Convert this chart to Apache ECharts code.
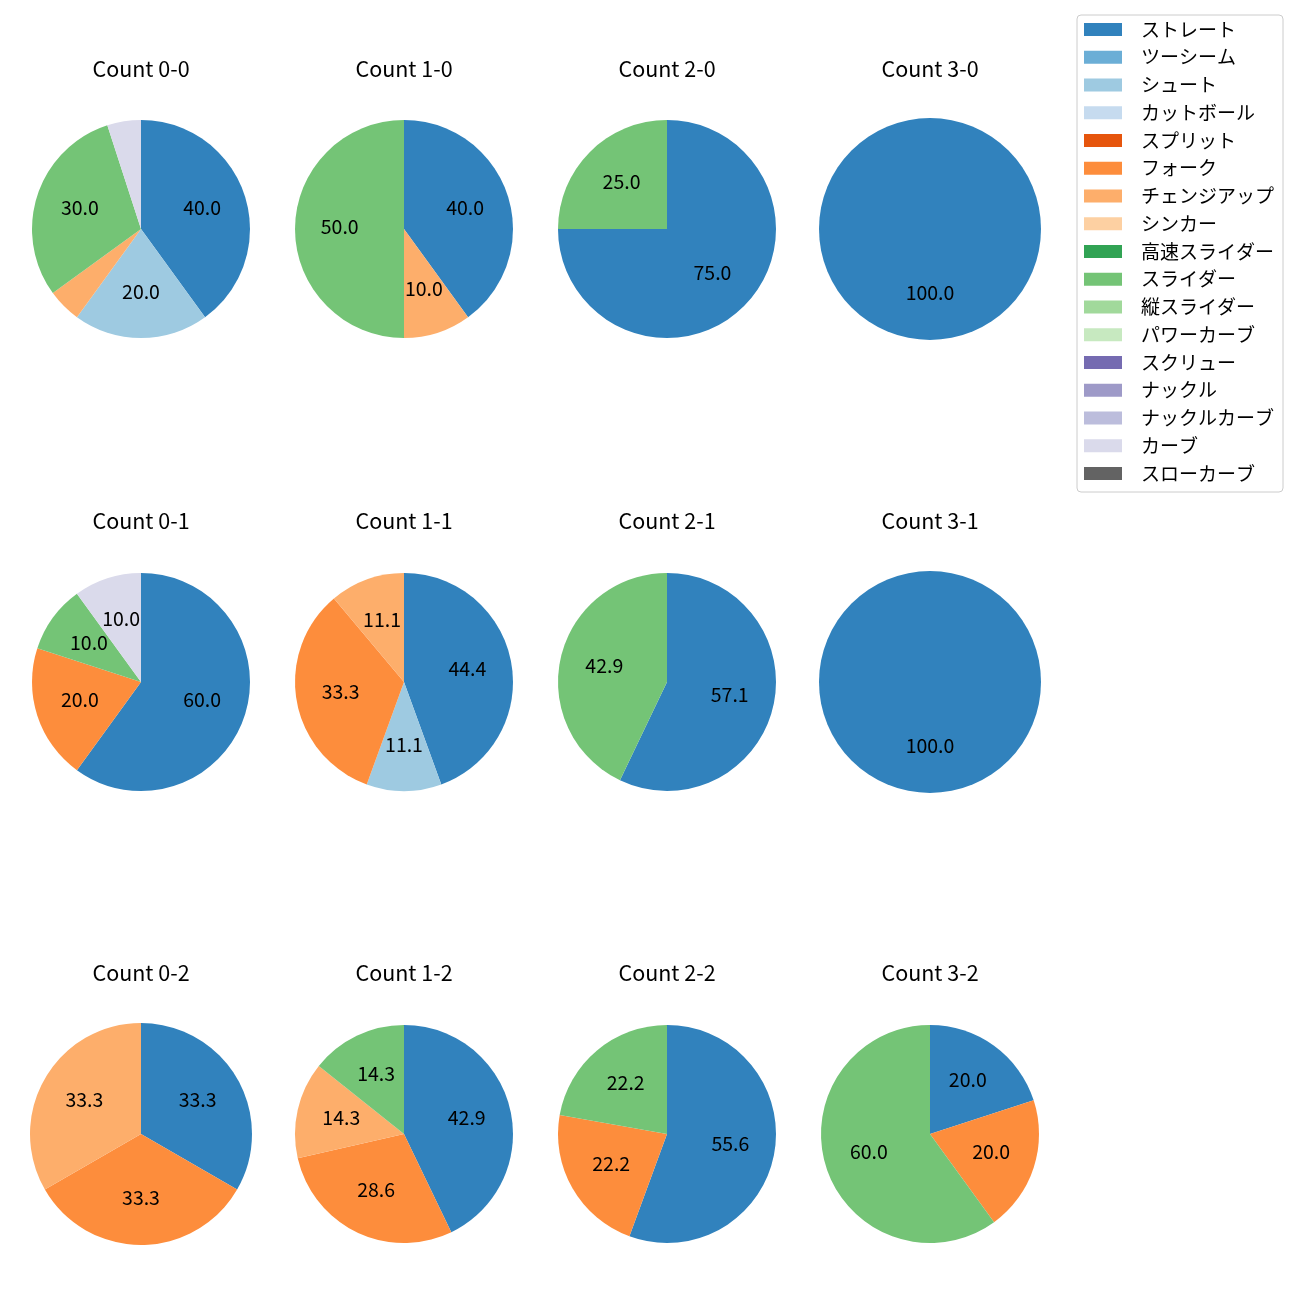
<!DOCTYPE html>
<html>
<head>
<meta charset="utf-8">
<script src="https://cdn.jsdelivr.net/npm/echarts@6/dist/echarts.min.js"></script>
<style>
html,body{margin:0;padding:0;background:#fff;}
#chart{width:1300px;height:1300px;}
</style>
</head>
<body>
<div id="chart"></div>
<script>
// ---- data ----
const pitchTypes = ['ストレート','ツーシーム','シュート','カットボール','スプリット','フォーク','チェンジアップ','シンカー','高速スライダー','スライダー','縦スライダー','パワーカーブ','スクリュー','ナックル','ナックルカーブ','カーブ','スローカーブ'];
const pitchColors = ['#3182bd','#6baed6','#9ecae1','#c6dbef','#e6550d','#fd8d3c','#fdae6b','#fdd0a2','#31a354','#74c476','#a1d99b','#c7e9c0','#756bb1','#9e9ac8','#bcbddc','#dadaeb','#636363'];
const countTitles = ['Count 0-0','Count 1-0','Count 2-0','Count 3-0','Count 0-1','Count 1-1','Count 2-1','Count 3-1','Count 0-2','Count 1-2','Count 2-2','Count 3-2'];
// percentages per pitch type (same order as pitchTypes)
const count00 = [40,0,20,0,0,0,5,0,0,30,0,0,0,0,0,5,0];
const count10 = [40,0,0,0,0,0,10,0,0,50,0,0,0,0,0,0,0];
const count20 = [75,0,0,0,0,0,0,0,0,25,0,0,0,0,0,0,0];
const count30 = [100,0,0,0,0,0,0,0,0,0,0,0,0,0,0,0,0];
const count01 = [60,0,0,0,0,20,0,0,0,10,0,0,0,0,0,10,0];
const count11 = [44.4,0,11.1,0,0,33.3,11.1,0,0,0,0,0,0,0,0,0,0];
const count21 = [57.1,0,0,0,0,0,0,0,0,42.9,0,0,0,0,0,0,0];
const count31 = [100,0,0,0,0,0,0,0,0,0,0,0,0,0,0,0,0];
const count02 = [33.3,0,0,0,0,33.3,33.3,0,0,0,0,0,0,0,0,0,0];
const count12 = [42.9,0,0,0,0,28.6,14.3,0,0,14.3,0,0,0,0,0,0,0];
const count22 = [55.6,0,0,0,0,22.2,0,0,0,22.2,0,0,0,0,0,0,0];
const count32 = [20,0,0,0,0,20,0,0,0,60,0,0,0,0,0,0,0];
const countValues = [count00,count10,count20,count30,count01,count11,count21,count31,count02,count12,count22,count32];

// ---- layout ----
const colX = [141, 404, 667, 930];
const rowY = [229, 682, 1134];
const titleY = [69, 521, 973];
const radii = [109,109,109,111, 109,109,109,111, 111,109,109,109];
const FONT = "'Noto Sans CJK JP', 'Noto Sans', sans-serif";

const series = [];
const labelSeries = [];
const titles = [];
countValues.forEach((vals, k) => {
  const row = Math.floor(k / 4);
  const cx = colX[k % 4], cy = rowY[row], r = radii[k];
  const total = vals.reduce((a, b) => a + b, 0);
  series.push({
    type: 'pie', center: [cx, cy], radius: [0, r], startAngle: 90, clockwise: true,
    silent: true, animation: false, avoidLabelOverlap: false,
    label: {show: false}, labelLine: {show: false},
    emphasis: {disabled: true},
    data: pitchTypes.map((n, i) => ({name: n, value: vals[i], itemStyle: {color: pitchColors[i]}}))
  });
  labelSeries.push({
    type: 'pie', center: [cx, cy], radius: [0, r * 1.125], startAngle: 90, clockwise: true,
    silent: true, animation: false, avoidLabelOverlap: false, z: 5,
    itemStyle: {color: 'rgba(0,0,0,0)'},
    labelLine: {show: false},
    emphasis: {disabled: true},
    label: {
      show: true, position: 'inside', color: '#000', fontSize: 19.5, fontFamily: FONT, offset: [0, -2],
      formatter: p => (p.percent >= 8 ? (p.value / total * 100).toFixed(1) : '')
    },
    data: pitchTypes.map((n, i) => ({name: n, value: vals[i], itemStyle: {color: 'rgba(0,0,0,0)'}}))
  });
  titles.push({
    text: countTitles[k], left: cx, top: titleY[row] - 11, textAlign: 'center', padding: 0,
    textStyle: {fontSize: 21.5, lineHeight: 22, fontWeight: 'normal', color: '#000', fontFamily: FONT}
  });
});

const chart = echarts.init(document.getElementById('chart'), null, {renderer: 'canvas'});
chart.setOption({
  animation: false,
  title: titles,
  legend: {
    data: pitchTypes, orient: 'vertical', left: 1077, top: 15,
    itemWidth: 38, itemHeight: 13, itemGap: 8.75, icon: 'rect',
    padding: [5, 9, 9, 7], borderColor: '#cccccc', borderWidth: 1, borderRadius: 4,
    selectedMode: false,
    textStyle: {fontSize: 19, lineHeight: 19, color: '#000', fontFamily: FONT, padding: [0, 0, 0, 14]}
  },
  series: series.concat(labelSeries)
});
</script>
</body>
</html>
